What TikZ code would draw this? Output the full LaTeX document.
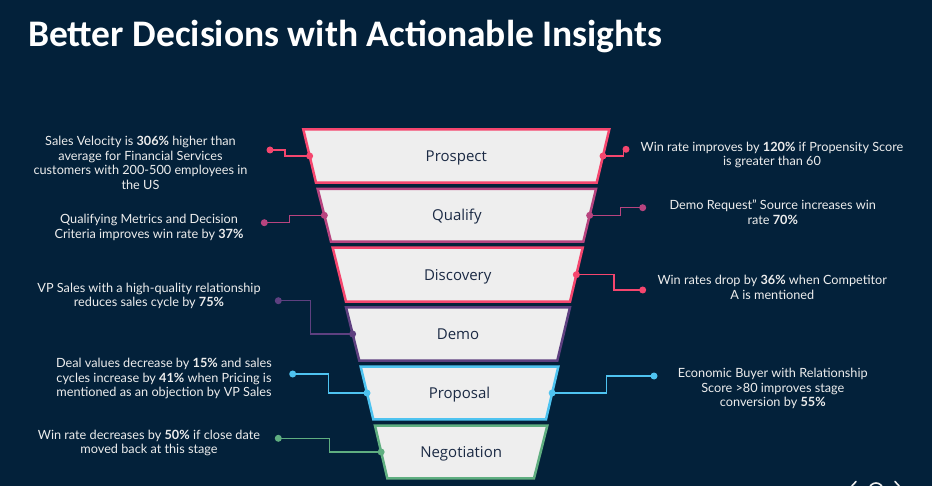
\documentclass[tikz,border=0pt]{standalone}
\usepackage{fontspec}
\setmainfont{Lato}
\newfontfamily\titlefont{Carlito}
\newfontfamily\stagefont{Open Sans}
\usetikzlibrary{calc}
\definecolor{bg}{HTML}{03213A}
\definecolor{txt}{HTML}{EDEDED}
\definecolor{stfill}{HTML}{EEEEEE}
\definecolor{stlabel}{HTML}{1B2A44}
\definecolor{cpink}{HTML}{F5466E}
\definecolor{cmag}{HTML}{B8447F}
\definecolor{cpur}{HTML}{5E4080}
\definecolor{cblue}{HTML}{4EC3F0}
\definecolor{cgreen}{HTML}{5FAE80}
\newcommand\stagebox[9]{%
  \draw[stageline, draw=#3] (#4,#8) -- (#5,#8) -- (#7,#9) -- (#6,#9) -- cycle;
  \node[stagelabel] (#1) at ({(#4+#5)/2},{(#8+#9)/2+5.5}) {#2};
  \coordinate (#1-L) at ({(#4+#6)/2},{(#8+#9)/2});
  \coordinate (#1-R) at ({(#5+#7)/2},{(#8+#9)/2});
}
\begin{document}
\begin{tikzpicture}[x=1pt,y=-1pt,
  stageline/.style={fill=stfill, line width=2.5pt, line join=miter},
  stagelabel/.style={anchor=base, inner sep=0pt, text=stlabel, font=\stagefont\fontsize{15}{18}\selectfont},
  info/.style={align=center, text=txt, inner sep=0pt, font=\fontsize{12.7}{14.7}\selectfont},
  conn/.style={line width=1.2pt},
  enddot/.style={circle, inner sep=0pt, minimum size=7pt},
]
\fill[bg] (0,0) rectangle (932,486);
\useasboundingbox (0,0) rectangle (932,486);
\clip (0,0) rectangle (932,486);

\node[anchor=base west, inner sep=0pt, text=white, font=\titlefont\bfseries\fontsize{37.5}{40}\selectfont] (title) at (28,47) {Better Decisions with Actionable Insights};

% funnel stages
\stagebox{prospect}{Prospect}{cpink}{303.3}{609.3}{316}{596.7}{129.3}{182.7}
\stagebox{qualify}{Qualify}{cmag}{317.7}{596}{331}{583.3}{189}{241.7}
\stagebox{discovery}{Discovery}{cpink}{332.7}{582.7}{346}{570}{247.7}{301.7}
\stagebox{demo}{Demo}{cpur}{346}{570}{359.3}{557.3}{307.3}{360.7}
\stagebox{proposal}{Proposal}{cblue}{360.7}{558.3}{373.3}{546}{366.7}{419.3}
\stagebox{negotiation}{Negotiation}{cgreen}{375}{547.3}{387.3}{534}{425.7}{478.3}

% end dots
\node[enddot, fill=cpink] (e-pl) at (270,150) {};
\node[enddot, fill=cpink] (e-pr) at (626,149.3) {};
\node[enddot, fill=cmag] (e-ql) at (264.3,222.7) {};
\node[enddot, fill=cmag] (e-qr) at (642.7,207.7) {};
\node[enddot, fill=cpink] (e-dr) at (642.7,290) {};
\node[enddot, fill=cpur] (e-ml) at (278.3,300.7) {};
\node[enddot, fill=cblue] (e-rl) at (292.7,374) {};
\node[enddot, fill=cblue] (e-rr) at (654,376) {};
\node[enddot, fill=cgreen] (e-nl) at (278.3,438.3) {};

% connectors
\draw[conn, cpink] (e-pl.center) -- ++(15,0) |- (prospect-L);
\draw[conn, cpink] (e-pr.center) -- ++(-2.7,0) |- (prospect-R);
\draw[conn, cmag] (e-ql.center) -- ++(25,0) |- (qualify-L);
\draw[conn, cmag] (e-qr.center) -- ++(-22,0) |- (qualify-R);
\draw[conn, cpink] (e-dr.center) -- ++(-28.7,0) |- (discovery-R);
\draw[conn, cpur] (e-ml.center) -- ++(32.4,0) |- (demo-L);
\draw[conn, cblue] (e-rl.center) -- ++(35.6,0) |- (proposal-L);
\draw[conn, cblue] (e-rr.center) -- ++(-47.3,0) |- (proposal-R);
\draw[conn, cgreen] (e-nl.center) -- ++(51,0) |- (negotiation-L);

% stage-side dots
\fill[cpink] (prospect-L) circle (3.5);
\fill[cpink] (prospect-R) circle (3.5);
\fill[cmag] (qualify-L) circle (3.5);
\fill[cmag] (qualify-R) circle (3.5);
\fill[cpink] (discovery-R) circle (3.5);
\fill[cpur] (demo-L) circle (3.5);
\fill[cblue] (proposal-L) circle (3.5);
\fill[cblue] (proposal-R) circle (3.5);
\fill[cgreen] (negotiation-L) circle (3.5);

% texts
\node[info] (t-pl) at (140.5,163) {Sales Velocity is \textbf{306\%} higher than\\average for Financial Services\\customers with 200-500 employees in\\the US};
\node[info] (t-ql) at (149,227.5) {Qualifying Metrics and Decision\\Criteria improves win rate by \textbf{37\%}};
\node[info] (t-ml) at (149,296) {VP Sales with a high-quality relationship\\reduces sales cycle by \textbf{75\%}};
\node[info] (t-rl) at (164,378.7) {Deal values decrease by \textbf{15\%} and sales\\cycles increase by \textbf{41\%} when Pricing is\\mentioned as an objection by VP Sales};
\node[info] (t-nl) at (149,443) {Win rate decreases by \textbf{50\%} if close date\\moved back at this stage};
\node[info] (t-pr) at (772,155) {Win rate improves by \textbf{120\%} if Propensity Score\\is greater than 60};
\node[info] (t-qr) at (772.8,212) {Demo Request'' Source increases win\\rate \textbf{70\%}};
\node[info] (t-dr) at (772.3,287.5) {Win rates drop by \textbf{36\%} when Competitor\\A is mentioned};
\node[info] (t-rr) at (772.8,388.7) {Economic Buyer with Relationship\\Score >80 improves stage\\conversion by \textbf{55\%}};

% partial navigation icons at bottom edge
\draw[txt, line width=1.6pt, line cap=round] (856,481.5) -- (851,487);
\draw[txt, line width=1.6pt] (876,490) circle (7);
\draw[txt, line width=1.6pt, line cap=round] (895,481.5) -- (900,487);
\end{tikzpicture}
\end{document}
